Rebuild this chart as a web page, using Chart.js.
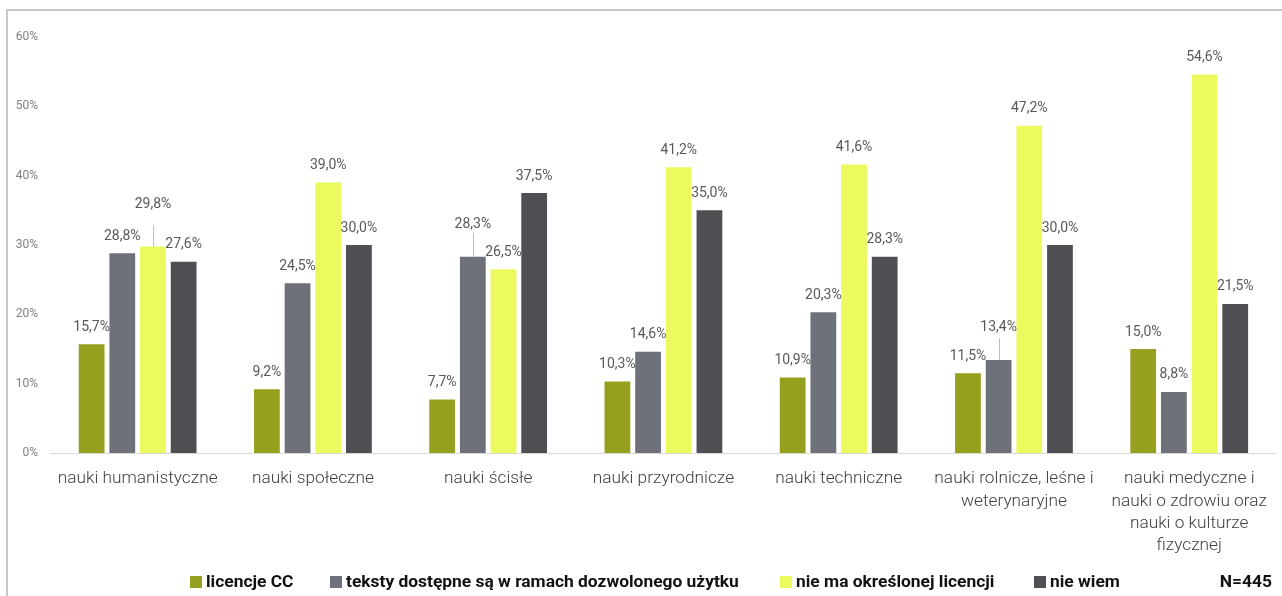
<!DOCTYPE html>
<html>
<head>
<meta charset="utf-8">
<script src="https://cdn.jsdelivr.net/npm/chart.js@4.4.1/dist/chart.umd.min.js"></script>
<style>
  html, body { margin: 0; padding: 0; background: #ffffff; }
  #wrap { width: 1282px; height: 596px; position: relative; }
</style>
</head>
<body>
<div id="wrap"><canvas id="c" width="1282" height="596"></canvas></div>
<script>
// ---- data ----
const categories = [
  ['nauki humanistyczne'],
  ['nauki społeczne'],
  ['nauki ścisłe'],
  ['nauki przyrodnicze'],
  ['nauki techniczne'],
  ['nauki rolnicze, leśne i', 'weterynaryjne'],
  ['nauki medyczne i', 'nauki o zdrowiu oraz', 'nauki o kulturze', 'fizycznej']
];
const seriesNames = ['licencje CC', 'teksty dostępne są w ramach dozwolonego użytku', 'nie ma określonej licencji', 'nie wiem'];
const licencjeCC   = [15.7, 9.2, 7.7, 10.3, 10.9, 11.5, 15.0];
const dozwolony    = [28.8, 24.5, 28.3, 14.6, 20.3, 13.4, 8.8];
const brakLicencji = [29.8, 39.0, 26.5, 41.2, 41.6, 47.2, 54.6];
const nieWiem      = [27.6, 30.0, 37.5, 35.0, 28.3, 30.0, 21.5];
const yTicks = [0, 10, 20, 30, 40, 50, 60];
const sampleNote = 'N=445';

// ---- styles ----
const colors = ['#95a01e', '#6e7179', '#ebfa5f', '#4e4f52'];
const FONT = 'Roboto, "Liberation Sans", sans-serif';

const fmt = v => v.toFixed(1).replace('.', ',') + '%';

const framePlugin = {
  id: 'frame',
  beforeDraw(chart) {
    const ctx = chart.ctx;
    ctx.save();
    ctx.strokeStyle = '#c8c8c8';
    ctx.lineWidth = 2;
    ctx.beginPath();
    ctx.moveTo(7, 600);
    ctx.lineTo(7, 10);
    ctx.lineTo(1290, 10);
    ctx.stroke();
    ctx.restore();
  }
};

const labelPlugin = {
  id: 'valueLabels',
  afterDatasetsDraw(chart, args, opts) {
    const ctx = chart.ctx;
    ctx.save();
    ctx.font = '14px ' + FONT;
    ctx.fillStyle = '#595959';
    ctx.textAlign = 'center';
    ctx.textBaseline = 'middle';
    chart.data.datasets.forEach((ds, di) => {
      const meta = chart.getDatasetMeta(di);
      meta.data.forEach((bar, i) => {
        const v = ds.data[i];
        const lift = (opts.lifts || []).find(l => l.ds === di && l.i === i);
        let y = bar.y - 17;
        if (lift) {
          y = bar.y - 17 - lift.lift;
          ctx.save();
          ctx.strokeStyle = '#bfbfbf';
          ctx.lineWidth = 1;
          ctx.beginPath();
          ctx.moveTo(Math.round(bar.x) + 0.5, bar.y);
          ctx.lineTo(Math.round(bar.x) + 0.5, y + lift.gap);
          ctx.stroke();
          ctx.restore();
        }
        ctx.fillText(fmt(v), bar.x, y);
      });
    });
    ctx.restore();
  }
};

const legendPlugin = {
  id: 'customLegend',
  afterDraw(chart, args, opts) {
    const ctx = chart.ctx;
    ctx.save();
    ctx.font = 'bold 17.4px ' + FONT;
    ctx.textBaseline = 'middle';
    ctx.textAlign = 'left';
    const y = opts.y;
    chart.data.datasets.forEach((ds, di) => {
      const x = opts.xs[di];
      ctx.fillStyle = ds.backgroundColor;
      ctx.fillRect(x, y - 6, 12, 12);
      ctx.fillStyle = '#111111';
      ctx.fillText(ds.label, x + 16, y + 1);
    });
    ctx.textAlign = 'right';
    ctx.fillText(sampleNote, opts.noteX, y + 1);
    ctx.restore();
  }
};

function build() {
  new Chart(document.getElementById('c'), {
    type: 'bar',
    data: {
      labels: categories,
      datasets: [
        { label: seriesNames[0], data: licencjeCC,   backgroundColor: colors[0] },
        { label: seriesNames[1], data: dozwolony,    backgroundColor: colors[1] },
        { label: seriesNames[2], data: brakLicencji, backgroundColor: colors[2] },
        { label: seriesNames[3], data: nieWiem,      backgroundColor: colors[3] }
      ]
    },
    options: {
      responsive: false,
      animation: false,
      devicePixelRatio: 1,
      layout: { padding: { top: 37, right: 1, bottom: 0, left: 0 } },
      datasets: { bar: { categoryPercentage: 0.7, barPercentage: 0.84 } },
      plugins: {
        legend: { display: false },
        tooltip: { enabled: false },
        valueLabels: {
          lifts: [
            { ds: 2, i: 0, lift: 25, gap: 21 },
            { ds: 1, i: 2, lift: 15, gap: 8 },
            { ds: 1, i: 5, lift: 16, gap: 11 }
          ]
        },
        customLegend: { xs: [190, 330, 780, 1034], y: 582, noteX: 1272 }
      },
      scales: {
        x: {
          grid: { display: false, drawTicks: false },
          border: { display: true, color: '#d9d9d9', width: 1 },
          ticks: {
            color: '#404040',
            font: { family: FONT, size: 17.3, weight: 300, lineHeight: 1.28 },
            padding: 15,
            maxRotation: 0,
            autoSkip: false
          },
          afterFit(scale) { scale.height = 143; }
        },
        y: {
          min: 0, max: 60,
          afterBuildTicks(scale) { scale.ticks = yTicks.map(v => ({ value: v })); },
          grid: { display: false, drawTicks: false },
          border: { display: false },
          ticks: {
            color: '#7f7f7f',
            font: { family: FONT, size: 12 },
            padding: 12,
            callback: v => v + '%'
          },
          afterFit(scale) { scale.width = 50; }
        }
      }
    },
    plugins: [framePlugin, labelPlugin, legendPlugin]
  });
}

Promise.all([
  document.fonts.load('16px Roboto'),
  document.fonts.load('300 16px Roboto'),
  document.fonts.load('bold 16px Roboto')
]).then(build, build);
</script>
</body>
</html>
